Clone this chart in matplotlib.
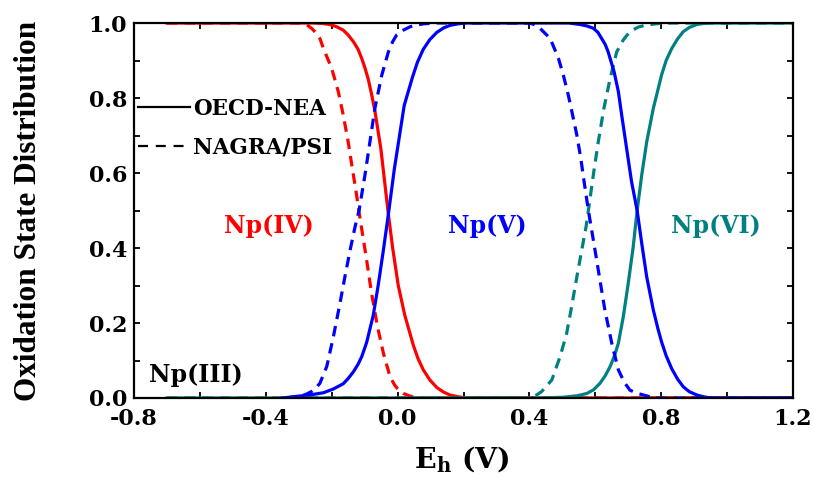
import matplotlib
matplotlib.use('Agg')
import matplotlib.pyplot as plt
from matplotlib.ticker import MultipleLocator, FixedLocator
from matplotlib.lines import Line2D

# ---- data (Eh in V, fraction) ----
# OECD-NEA (solid)
x_np4_nea = [-0.70, -0.26, -0.23, -0.205, -0.185, -0.165, -0.150, -0.134, -0.120, -0.109,
             -0.099, -0.089, -0.079, -0.069, -0.051, -0.028, -0.015, 0.002, 0.022, 0.048,
             0.062, 0.078, 0.098, 0.119, 0.139, 0.159, 0.185, 0.21, 1.20]
y_np4_nea = [1.0, 1.0, 0.999, 0.996, 0.990, 0.981, 0.968, 0.950, 0.930, 0.906,
             0.880, 0.850, 0.810, 0.766, 0.666, 0.490, 0.400, 0.300, 0.220, 0.140,
             0.105, 0.075, 0.048, 0.028, 0.016, 0.008, 0.003, 0.0, 0.0]

x_np5_nea = [-0.35, -0.30, -0.26, -0.225, -0.195, -0.165, -0.150, -0.134, -0.120, -0.109,
             -0.094, -0.074, -0.059, -0.043, -0.028, -0.010, 0.005, 0.020, 0.045, 0.060,
             0.078, 0.098, 0.119, 0.140, 0.160, 0.185, 0.21, 0.52,
             0.554, 0.575, 0.594, 0.608, 0.619, 0.630, 0.639, 0.657, 0.670, 0.680,
             0.695, 0.710, 0.727, 0.741, 0.756, 0.776, 0.790, 0.801, 0.815, 0.832,
             0.850, 0.867, 0.885, 0.908, 0.93, 0.95, 1.20]
y_np5_nea = [0.0, 0.005, 0.009, 0.014, 0.024, 0.038, 0.052, 0.070, 0.090, 0.110,
             0.148, 0.220, 0.300, 0.395, 0.490, 0.610, 0.695, 0.780, 0.855, 0.895,
             0.930, 0.956, 0.975, 0.987, 0.994, 0.998, 1.0, 1.0,
             0.996, 0.992, 0.986, 0.975, 0.959, 0.943, 0.923, 0.870, 0.817, 0.755,
             0.666, 0.577, 0.500, 0.412, 0.323, 0.235, 0.185, 0.150, 0.113, 0.078,
             0.050, 0.030, 0.017, 0.008, 0.003, 0.0, 0.0]

x_np6_nea = [-0.70, 0.43, 0.503, 0.545, 0.574, 0.595, 0.614, 0.630, 0.645, 0.658,
             0.670, 0.685, 0.700, 0.715, 0.727, 0.741, 0.756, 0.776, 0.801, 0.815,
             0.832, 0.850, 0.867, 0.885, 0.908, 0.93, 0.95, 1.20]
y_np6_nea = [0.0, 0.0, 0.002, 0.006, 0.012, 0.022, 0.039, 0.059, 0.084, 0.112,
             0.146, 0.217, 0.306, 0.403, 0.500, 0.595, 0.683, 0.772, 0.861, 0.900,
             0.932, 0.958, 0.977, 0.988, 0.996, 0.999, 1.0, 1.0]

# NAGRA/PSI (dashed)
x_np4_psi = [-0.70, -0.29, -0.275, -0.26, -0.247, -0.236, -0.225, -0.200, -0.180, -0.165,
             -0.150, -0.139, -0.126, -0.116, -0.094, -0.079, -0.061, -0.043, -0.023, -0.010,
             0.002, 0.018, 0.035, 0.05, 0.07, 1.20]
y_np4_psi = [1.0, 1.0, 0.995, 0.985, 0.973, 0.959, 0.932, 0.879, 0.817, 0.755,
             0.683, 0.621, 0.550, 0.490, 0.368, 0.279, 0.190, 0.119, 0.057, 0.036,
             0.022, 0.012, 0.006, 0.002, 0.0, 0.0]

x_np5_psi = [-0.34, -0.31, -0.29, -0.275, -0.26, -0.248, -0.236, -0.215, -0.195, -0.175,
             -0.160, -0.144, -0.129, -0.117, -0.099, -0.084, -0.069, -0.048, -0.028, -0.015,
             -0.003, 0.015, 0.038, 0.06, 0.08, 0.12,
             0.40, 0.418, 0.432, 0.463, 0.488, 0.503, 0.518, 0.531, 0.544, 0.556,
             0.566, 0.579, 0.599, 0.614, 0.629, 0.650, 0.670, 0.688, 0.705, 0.725,
             0.746, 0.78, 1.20]
y_np5_psi = [0.0, 0.003, 0.006, 0.011, 0.018, 0.027, 0.039, 0.084, 0.163, 0.252,
             0.323, 0.395, 0.457, 0.500, 0.595, 0.683, 0.772, 0.861, 0.923, 0.950,
             0.968, 0.980, 0.990, 0.995, 0.998, 1.0,
             1.0, 0.995, 0.986, 0.959, 0.906, 0.861, 0.808, 0.755, 0.701, 0.639,
             0.577, 0.500, 0.395, 0.315, 0.235, 0.146, 0.075, 0.042, 0.021, 0.013,
             0.008, 0.0, 0.0]

x_np6_psi = [-0.70, 0.40, 0.42, 0.437, 0.468, 0.493, 0.513, 0.528, 0.544, 0.559,
             0.572, 0.579, 0.594, 0.609, 0.626, 0.645, 0.665, 0.685, 0.705, 0.73,
             0.756, 0.806, 1.20]
y_np6_psi = [0.0, 0.0, 0.007, 0.017, 0.048, 0.110, 0.172, 0.243, 0.323, 0.395,
             0.457, 0.500, 0.595, 0.683, 0.772, 0.852, 0.923, 0.955, 0.977, 0.989,
             0.995, 1.0, 1.0]

x_ticks = [-0.8, -0.4, 0.0, 0.4, 0.8, 1.2]
y_ticks = [0.0, 0.2, 0.4, 0.6, 0.8, 1.0]
species_labels = ['Np(III)', 'Np(IV)', 'Np(V)', 'Np(VI)']
legend_labels = ['OECD-NEA', 'NAGRA/PSI']

# ---- styling ----
RED, BLUE, TEAL = '#FF0000', '#0000FF', '#008080'
HFONT = 'DejaVu Serif'
LW = 2.3
DASH = (3.3, 2.2)

fig = plt.figure(figsize=(8.15, 4.79), dpi=100)
ax = fig.add_axes([134 / 815, 1 - 398 / 479, 659 / 815, 375 / 479])

ax.plot(x_np4_nea, y_np4_nea, color=RED, lw=LW)
ax.plot(x_np4_psi, y_np4_psi, color=RED, lw=LW, dashes=DASH)
ax.plot(x_np6_nea, y_np6_nea, color=TEAL, lw=LW)
ax.plot(x_np6_psi, y_np6_psi, color=TEAL, lw=LW, dashes=DASH)
ax.plot(x_np5_nea, y_np5_nea, color=BLUE, lw=LW)
ax.plot(x_np5_psi, y_np5_psi, color=BLUE, lw=LW, dashes=DASH)

ax.set_xlim(-0.8, 1.2)
ax.set_ylim(0.0, 1.0)
ax.xaxis.set_major_locator(FixedLocator(x_ticks))
ax.xaxis.set_minor_locator(MultipleLocator(0.2))
ax.yaxis.set_major_locator(FixedLocator(y_ticks))
ax.yaxis.set_minor_locator(MultipleLocator(0.1))
ax.set_xticklabels(['%.1f' % v for v in x_ticks])
ax.set_yticklabels(['%.1f' % v for v in y_ticks])
for t in ax.get_xticklabels() + ax.get_yticklabels():
    t.set_fontfamily(HFONT)
    t.set_fontweight('bold')
    t.set_fontsize(16)
ax.tick_params(which='both', direction='in', top=True, right=True,
               length=4, width=1.3, colors='black')
ax.tick_params(axis='x', which='major', pad=7)
ax.tick_params(axis='y', which='major', pad=5)
for s in ax.spines.values():
    s.set_linewidth(1.6)

# species labels
ax.text(-0.612, 0.061, species_labels[0], color='black', fontsize=17,
        fontfamily=HFONT, fontweight='bold', ha='center', va='center')
ax.text(-0.39, 0.459, species_labels[1], color=RED, fontsize=17,
        fontfamily=HFONT, fontweight='bold', ha='center', va='center')
ax.text(0.271, 0.459, species_labels[2], color=BLUE, fontsize=17,
        fontfamily=HFONT, fontweight='bold', ha='center', va='center')
ax.text(0.966, 0.459, species_labels[3], color=TEAL, fontsize=17,
        fontfamily=HFONT, fontweight='bold', ha='center', va='center')

# legend
handles = [Line2D([], [], color='black', lw=1.6),
           Line2D([], [], color='black', lw=1.6, dashes=(4.5, 3.5))]
leg = ax.legend(handles, legend_labels, loc='upper left',
                bbox_to_anchor=(0.006, 0.80), frameon=False,
                prop={'family': HFONT, 'weight': 'bold', 'size': 15.5},
                handlelength=2.42, handletextpad=0.15, labelspacing=0.75,
                borderpad=0, borderaxespad=0)

# axis titles
fig.text(29 / 815, 1 - 211 / 479, 'Oxidation State Distribution', rotation=90,
         ha='center', va='center', fontfamily='Liberation Serif',
         fontweight='bold', fontsize=22.5)
fig.text(462 / 815, 1 - 468 / 479, r'E$_\mathregular{h}$ (V)', ha='center',
         va='baseline', fontfamily=HFONT, fontweight='bold', fontsize=20.5)

fig.savefig('out.png', dpi=100)
